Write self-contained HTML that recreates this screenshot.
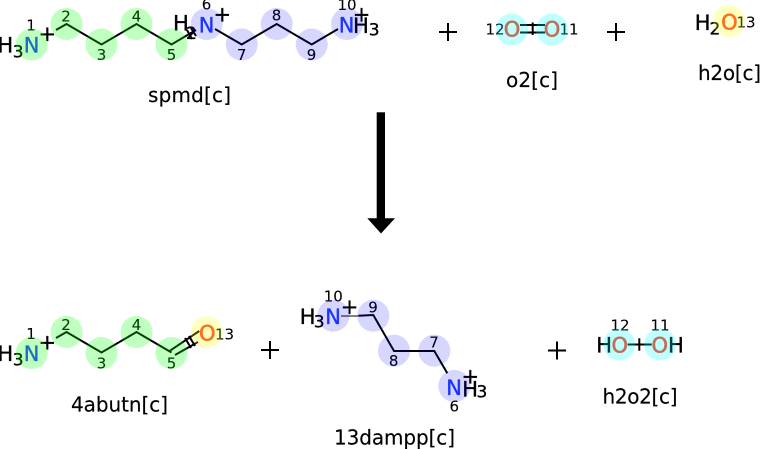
<!DOCTYPE html>
<html><head><meta charset="utf-8"><style>
html,body{margin:0;padding:0;background:#fff}
svg{display:block}
text{font-family:"DejaVu Sans",sans-serif}
.a{font-size:21px;fill:#000;stroke:#000;stroke-width:.35}
.s{font-size:17px;fill:#000;stroke:#000;stroke-width:.35}
.n{font-size:15px;fill:#000;text-anchor:middle;stroke:#000;stroke-width:.1}
.l{font-size:20px;fill:#000;stroke:#000;stroke-width:.15}
.N{fill:#2040ff;stroke:#2040ff}
.O{fill:#ff4020;stroke:#ff4020;stroke-width:.6}
.b{stroke:#000;stroke-width:2;fill:none}
.p{stroke:#000;stroke-width:2;fill:none}
.g{fill:rgba(0,255,0,.25)}
.v{fill:rgba(0,0,255,.16)}
.c{fill:rgba(0,255,255,.25)}
.y{fill:rgba(255,255,0,.25)}
</style></head><body>
<svg width="760" height="449" viewBox="0 0 760 449" xmlns="http://www.w3.org/2000/svg">
<!-- spmd -->
<polyline class="b" points="56,30 66.5,24 101.5,44.5 136.5,24 171.5,44.5 196,30"/>
<polyline class="b" points="215,29 241.7,44.5 276.7,24 311.7,44.5 338,29"/>
<path class="b" d="M187,30L192,39M191,28L196,36"/>
<text class="a" x="-2.7" y="52.700">H</text><text class="s" x="12.800" y="57.300">3</text>
<text class="a N" x="23.700" y="52.700">N</text>
<text class="a" x="38.500" y="41">+</text>
<text class="a" x="173" y="30.700">H</text><text class="s" x="186" y="39">2</text>
<text class="a N" x="198.700" y="32.300">N</text>
<text class="a" x="213.500" y="21.600">+</text>
<text class="a N" x="338.700" y="32.300">N</text>
<text class="a" x="353" y="33">H</text><text class="s" x="368.800" y="35.700">3</text>
<text class="a" x="352.800" y="21.600">+</text>
<text class="n" x="31" y="30.700">1</text><text class="n" x="66" y="21.700">2</text><text class="n" x="101.500" y="60">3</text><text class="n" x="136.500" y="21.700">4</text><text class="n" x="171.500" y="60">5</text>
<text class="n" x="206.500" y="9.500">6</text><text class="n" x="241.700" y="60">7</text><text class="n" x="276.500" y="20.700">8</text><text class="n" x="311.500" y="60">9</text><text class="n" x="347" y="10">10</text>
<text class="l" x="148" y="102" textLength="83">spmd[c]</text>
<circle class="g" cx="31.7" cy="44.5" r="16"/><circle class="g" cx="66.5" cy="24" r="16"/><circle class="g" cx="101.5" cy="44.5" r="16"/><circle class="g" cx="136.5" cy="24" r="16"/><circle class="g" cx="171.5" cy="44.5" r="16"/>
<circle class="v" cx="206.7" cy="24" r="16"/><circle class="v" cx="241.7" cy="44.5" r="16"/><circle class="v" cx="276.7" cy="24" r="16"/><circle class="v" cx="311.7" cy="44.5" r="16"/><circle class="v" cx="347" cy="24" r="16"/>
<!-- plus -->
<path class="p" d="M439,32H457M448,23V41M607,32H625M616,23V41M261,350H279M270,341V359M548,350.500H566M557,341.500V359.500"/>
<!-- o2 -->
<path class="b" d="M520,25H545M520,32.500H545M532.700,22.500V35"/>
<text class="a O" x="503.800" y="36.700">O</text><text class="a O" x="543.800" y="36.700">O</text>
<text class="n" x="495" y="34.300">12</text><text class="n" x="569" y="34.300">11</text>
<text class="l" x="506" y="87" textLength="52">o2[c]</text>
<circle class="c" cx="511.7" cy="29.5" r="16"/><circle class="c" cx="552" cy="29.5" r="16"/>
<!-- h2o -->
<text class="a" x="694.700" y="30">H</text><text class="s" x="709.500" y="34.300">2</text>
<text class="a O" x="721.100" y="29.500">O</text>
<text class="n" x="746" y="27.300">13</text>
<text class="l" x="698" y="80" textLength="63">h2o[c]</text>
<circle class="y" cx="729" cy="21" r="16"/>
<!-- arrow -->
<rect x="376.700" y="112.300" width="8.300" height="106.500" fill="#000"/>
<polygon points="367.300,218.300 395,218.300 381,233.500" fill="#000"/>
<!-- 4abutn -->
<polyline class="b" points="56,338 66.5,332 101.5,352.500 136.5,332 171.500,352.500"/>
<path class="b" d="M170,350.700L199.300,331M175,355L198,342"/>
<path class="b" d="M185,338L191,348M189,336L195,346"/>
<text class="a" x="-2.700" y="361">H</text><text class="s" x="12.800" y="365.500">3</text>
<text class="a N" x="23.700" y="361">N</text>
<text class="a" x="38.500" y="349.600">+</text>
<text class="a O" x="199" y="340.700">O</text>
<text class="n" x="31" y="339">1</text><text class="n" x="66" y="330">2</text><text class="n" x="101.500" y="368.300">3</text><text class="n" x="136.500" y="330">4</text><text class="n" x="171.500" y="368.300">5</text><text class="n" x="224.500" y="339.300">13</text>
<text class="l" x="71" y="411.500" textLength="97">4abutn[c]</text>
<circle class="g" cx="31.7" cy="353" r="16"/><circle class="g" cx="66.5" cy="332" r="16"/><circle class="g" cx="101.5" cy="353" r="16"/><circle class="g" cx="136.5" cy="332" r="16"/><circle class="g" cx="171.5" cy="353" r="16"/>
<circle class="y" cx="206.700" cy="332.300" r="16"/>
<!-- 13dampp -->
<path d="M341,316H358" stroke="#000" stroke-width="1" fill="none"/>
<polyline class="b" points="358.300,315.700 373.300,315 394,351 434.300,351 447.300,373.300"/>
<text class="a" x="299.700" y="324">H</text><text class="s" x="313.800" y="327.700">3</text>
<text class="a N" x="325.300" y="324">N</text>
<text class="a" x="340.800" y="313.900">+</text>
<text class="a N" x="446.300" y="395">N</text>
<text class="a" x="462.300" y="396.500">H</text><text class="s" x="476.500" y="397.300">3</text>
<text class="a" x="461.500" y="383.300">+</text>
<text class="n" x="333.300" y="301.700">10</text><text class="n" x="373" y="312.700">9</text><text class="n" x="393.700" y="366">8</text><text class="n" x="434" y="347.700">7</text><text class="n" x="454.300" y="411.700">6</text>
<text class="l" x="334" y="444.300" textLength="121">13dampp[c]</text>
<circle class="v" cx="333.300" cy="315.700" r="16"/><circle class="v" cx="373.300" cy="315.700" r="16"/><circle class="v" cx="394" cy="350.700" r="16"/><circle class="v" cx="434.300" cy="350.700" r="16"/><circle class="v" cx="454.300" cy="386" r="16"/>
<!-- h2o2 -->
<path class="b" d="M627.700,344.500H651.700M639.300,338.300V350.700"/>
<text class="a" x="596.300" y="352.700">H</text>
<text class="a O" x="611.500" y="352.700">O</text>
<text class="a O" x="651.500" y="352.700">O</text>
<text class="a" x="668" y="352.700">H</text>
<text class="n" x="620" y="330.700">12</text><text class="n" x="660" y="330.700">11</text>
<text class="l" x="602.500" y="403.300" textLength="75">h2o2[c]</text>
<circle class="c" cx="619.300" cy="344.500" r="16"/><circle class="c" cx="660" cy="344.500" r="16"/>
</svg>
</body></html>
